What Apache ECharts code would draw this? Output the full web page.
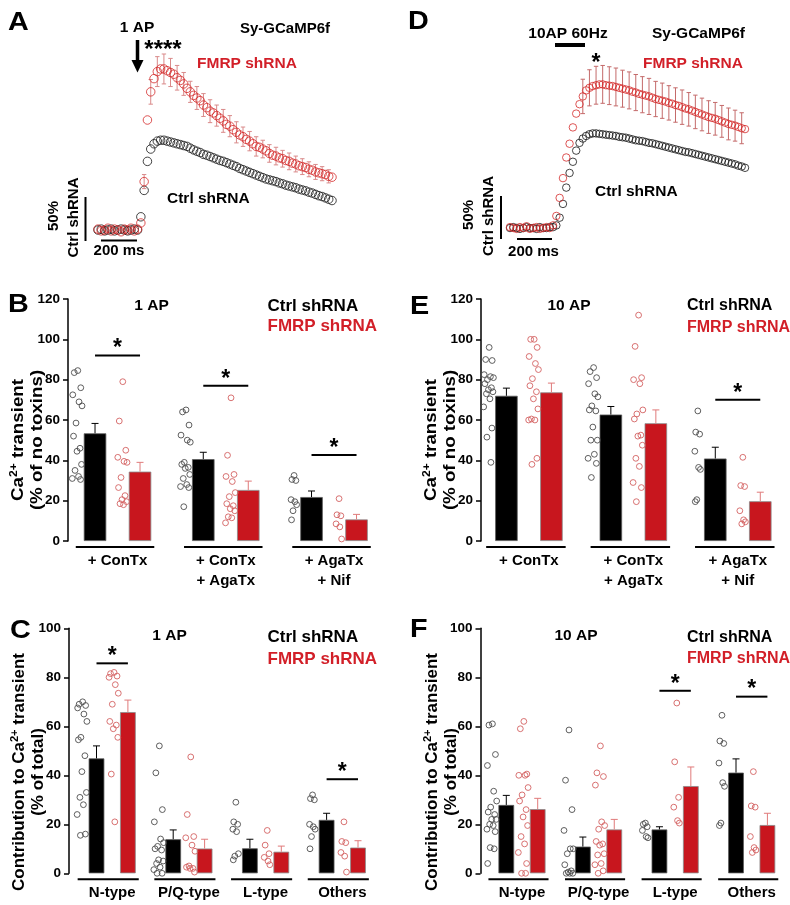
<!DOCTYPE html>
<html><head><meta charset="utf-8">
<script src="https://cdn.jsdelivr.net/npm/echarts@6/dist/echarts.min.js"></script>
<style>html,body{margin:0;padding:0;background:#fff}#chart{width:790px;height:905px}</style>
</head><body><div id="chart"></div>
<script>
// ================= DATA =================
// Panel A (1 AP) Sy-GCaMP6f traces, % of Ctrl shRNA peak, one value per frame
const traceA_ctrl = [0,1,-1,0,1,-1,0,1,0,-1,0,1,0,
  15,45,78,92,98,101,102,102,101,
  100,99,98,97,96,95,93,91,89.5,88,86,85,83.5,82,80.5,79,78,76.5,75,73.5,72,70,68.5,67,65.5,64,62.5,61,59.5,58,57,56,55,53.5,52.5,51,50,49,48,46.5,45.5,44.5,43,42,40.5,39,38,36.5,35,33.5];
const traceA_fmrp = [1,-1,0,2,-1,1,0,-2,1,0,2,-1,1,
  8,55,125,157,172,180,183,183,181,
  179,177,173,170,166,161,157,153,150,147,142,139,135,133,130,127,124,120,118,114,111,108,106,103,101,98,95,94,92,90,87,85,84,82,81,79,78,76,75,73,72,71,69,68,66,65,64,63,61,60];
const traceA_fmrpSem = [null,null,null,null,null,null,null,null,null,null,null,null,null,null,
  8,null,14,null,17,null,17,null,16,null,14,null,13,null,12,null,13,null,13,null,13,null,12,null,13,null,12,null,12,null,11,null,11,null,11,null,10,null,10,null,10,null,9.5,null,9.5,null,9,null,9,null,8.5,null,8.5,null,8,null,7.5,null];
// Panel D (10 AP, 60 Hz)
const traceD_ctrl = [0,1,0,-1,0,1,0,0,-1,1,0,0,1,
  1,3,12,28,47,64,77,90,99,104,107,109,110,110,109.5,109,
  108.5,108,107.5,107,106,105.5,105,104,103,102,101.5,101,100,99,98.5,97.5,96.5,95.5,94.5,93.5,92.5,91.5,90.5,89.5,88.5,88,87,86,85,84,83,82,81,80,79,78,77,76,75,74,72.5,71.5,70];
const traceD_fmrp = [1,0,-1,1,0,2,-1,0,1,-1,0,1,0,
  3,14,35,58,82,98,117,133,144,153,160,163,165,166,167,167,166,
  165.5,165,164,163,162,161,160,158.5,157.5,156,155,154,153,151.5,150,149,148,147,145.5,144.5,143,142,140.5,139,138,136.5,135,133.5,132,130.5,129,128,127,125.5,124,122.5,121,120,119,117.5,116,115];
const traceD_fmrpSem = [null,null,null,null,null,null,null,null,null,null,null,null,null,null,null,null,null,null,null,null,null,null,
  20,null,21,null,22,null,22,null,22,null,22,null,21.5,null,21.5,null,21,null,21,null,21,null,20.5,null,20.5,null,20,null,20,null,20,null,19.5,null,19.5,null,19,null,19,null,19,null,18.5,null,18.5,null,18,null,18,null];

// Panel B (1 AP, % of no toxins)
const catsToxin = ['+ ConTx', '+ ConTx\n+ AgaTx', '+ AgaTx\n+ Nif'];
const B_ctrlMean = [53.4, 40.6, 21.8];
const B_ctrlSem  = [4.9, 3.4, 3.0];
const B_fmrpMean = [34.4, 25.3, 10.7];
const B_fmrpSem  = [4.6, 4.4, 2.5];
const B_sig = [92, 77, 42.6];
const B_ctrlPts = [[84.5,83.5,76,72.5,69,67,58.5,52,46,44.5,38,35,32,31,30.5],
                   [65,64,57.5,52.5,50,49,39,38,36.5,36,33,31,28,27,26.5,17],
                   [32.5,30.5,30,20.5,19.5,18,15,10.5]];
const B_fmrpPts = [[79,59.5,45,41.5,39.5,39,31.5,26.5,22.5,20.5,19.5,18.5,18],
                   [71,42.5,33,32,29.5,24,22,18.5,17.5,16,15,12,11.5,9],
                   [21,13,12.5,8.5,7,1]];
// Panel E (10 AP, % of no toxins)
const E_ctrlMean = [72, 62.7, 40.9];
const E_ctrlSem  = [3.8, 4.0, 5.6];
const E_fmrpMean = [73.7, 58.4, 19.7];
const E_fmrpSem  = [4.6, 6.6, 4.5];
const E_sig = [null, null, 70];
const E_ctrlPts = [[96,90,89.5,82.5,81.5,81,80,78,76,75,74,73,70.5,66.5,56,51.5,39],
                   [86,84,81,78,73,71.5,67,65,64.5,56.5,50,50,43,41,38.5,31.5],
                   [64.5,54,53,44.5,36.5,35.5,20.5,19.5]];
const E_fmrpPts = [[100,100,96,91.5,88,85,80.5,77,74,70.5,65.5,60.5,60,60,41,38],
                   [112,96.5,81,80,78,65,63,60.5,52.5,52,47.5,41,37,29,26.5,19.5],
                   [41.5,27.5,27,15,10.5,9.5,8.5]];
// Panel C (1 AP, contribution % of total)
const catsType = ['N-type', 'P/Q-type', 'L-type', 'Others'];
const C_ctrlMean = [46.9, 13.9, 10.2, 21.8];
const C_ctrlSem  = [5.1, 3.8, 3.7, 2.7];
const C_fmrpMean = [65.8, 10.1, 8.8, 10.5];
const C_fmrpSem  = [4.9, 3.8, 2.3, 2.8];
const C_sig = [85.7, null, null, 38.4];
const C_ctrlPts = [[70,69,68.5,67.5,65,62,55.5,54.5,48,41.5,33,31,28,24,16,15.5],
                   [52,41,26,21,14,12.5,11,10,9.5,5.5,5,4,2.5,1.5,0,0],
                   [29,21,20,18,17,8,7,5.5],
                   [32,30.5,30,20,19,18,15,10]];
const C_fmrpPts = [[82,81.5,80.5,80,77,73.5,69,62,60.5,59,55.5,40.5,21],
                   [47.5,24,15,14.5,11.5,9,3,2.5,2,2,0.5],
                   [17.5,11.5,8,6.5,5,3.5],
                   [21,13,12.5,8.5,7,0.5]];
// Panel F (10 AP, contribution % of total)
const F_ctrlMean = [27.9, 10.9, 17.9, 41.1];
const F_ctrlSem  = [3.9, 3.9, 1.1, 5.6];
const F_fmrpMean = [26.2, 17.9, 35.6, 19.7];
const F_fmrpSem  = [4.4, 4.1, 7.8, 4.8];
const F_sig = [null, null, 74.5, 72.1];
const F_ctrlPts = [[61,60.5,48.5,44,33.5,29.5,27,25,24,22,22,20,19.5,18,17,10.5,10,4],
                   [58.5,38,26,17.5,10,10,8,3.5,1,0.5,0,0,0],
                   [20.5,20,19,17.5,15,14.5],
                   [64.5,54,53,45,37,35.5,20.5,19.5]];
const F_fmrpPts = [[62,59,40.5,40,40,35,32,29.5,26,23,19.5,15,12,8.5,4,0,0],
                   [52,41,39.5,36,21,19.5,18,13,12,11.5,8,7.5,4,3.5,1,0],
                   [69.5,45.5,31,27,21.5,20.5],
                   [41.5,27.5,27,15,10.5,9.5,8.5]];
const yTicksToxin = {max: 120, step: 20};
const yTicksType = {max: 100, step: 20};

// ================= STYLE / LAYOUT =================
const FONT = "'Liberation Sans', Arial, Helvetica, sans-serif";
const RED = '#c8161e';
const RED_TXT = '#d21f28';
const JIT = [0.1,-0.6,0.7,-0.9,0.35,0.95,-0.25,-0.75,0.55,-0.05,0.85,-0.45,0.25,-1,0.65,-0.35,0.45,-0.85];

const grids = [], xAxes = [], yAxes = [], series = [], graphics = [];

function addTracePanel(c) {
  const gi = grids.length;
  grids.push({left: c.left, top: c.top, width: c.width, height: c.height});
  xAxes.push({gridIndex: gi, type: 'value', min: 0, max: c.ctrl.length - 1, show: false});
  yAxes.push({gridIndex: gi, type: 'value', min: -30, max: 200, show: false});
  const base = {xAxisIndex: gi, yAxisIndex: gi, silent: true, animation: false};
  series.push({...base, type: 'scatter', data: c.ctrl.map((v, i) => [i, v]), symbol: 'circle',
    symbolSize: c.sym, clip: false, z: 2,
    itemStyle: {color: 'rgba(0,0,0,0)', borderColor: '#161616', borderWidth: 1}});
  const errData = [];
  c.sem.forEach((e, i) => { if (e != null) errData.push([i, c.fmrp[i], e]); });
  series.push({...base, type: 'custom', data: errData, encode: {x: 0, y: 1}, clip: false, z: 3,
    renderItem: (p, api) => {
      const i = api.value(0), v = api.value(1), e = api.value(2);
      const t = api.coord([i, v + e]), b = api.coord([i, v - e]);
      const x = t[0];
      const st = {stroke: c.errColor, lineWidth: 1};
      return {type: 'group', children: [
        {type: 'line', shape: {x1: x, y1: t[1], x2: x, y2: b[1]}, style: st},
        {type: 'line', shape: {x1: x - 2.2, y1: t[1], x2: x + 2.2, y2: t[1]}, style: st},
        {type: 'line', shape: {x1: x - 2.2, y1: b[1], x2: x + 2.2, y2: b[1]}, style: st}]};
    }});
  series.push({...base, type: 'scatter', data: c.fmrp.map((v, i) => [i, v]), symbol: 'circle',
    symbolSize: c.sym, clip: false, z: 4,
    itemStyle: {color: 'rgba(0,0,0,0)', borderColor: '#d42a2a', borderWidth: 1}});
}

function addBarPanel(c) {
  const gi = grids.length;
  grids.push({left: c.left, top: c.top, width: c.width, height: c.height});
  xAxes.push({gridIndex: gi, type: 'category', data: c.cats,
    axisLine: {show: false}, axisTick: {show: false},
    axisLabel: {interval: 0, color: '#000', fontFamily: FONT, fontWeight: 'bold', fontSize: 15, lineHeight: 20, margin: 10}});
  yAxes.push({gridIndex: gi, type: 'value', min: 0, max: c.ticks.max, interval: c.ticks.step, offset: c.axisOffset,
    axisLine: {show: true, lineStyle: {color: '#000', width: 1.5}},
    axisTick: {show: true, length: 5, lineStyle: {color: '#000', width: 1.5}},
    axisLabel: {color: '#000', fontFamily: FONT, fontWeight: 'bold', fontSize: 13.5, margin: 8},
    splitLine: {show: false}});
  const w = c.barW;
  const base = {xAxisIndex: gi, yAxisIndex: gi, silent: true, animation: false};
  series.push({...base, type: 'bar', data: c.ctrlMean, barWidth: w, barGap: '100%', z: 2,
    itemStyle: {color: '#000', borderColor: '#5a5a5a', borderWidth: 0.8}});
  series.push({...base, type: 'bar', data: c.fmrpMean, barWidth: w, barGap: '100%', z: 2,
    itemStyle: {color: RED, borderColor: '#8a8a8a', borderWidth: 0.8}});
  const errS = (means, sems, side, color) => ({...base, type: 'custom', z: 3, clip: false,
    data: means.map((m, g) => [g, m, sems[g]]), encode: {x: 0, y: 1},
    renderItem: (p, api) => {
      const g = api.value(0), m = api.value(1), s = api.value(2);
      const a = api.coord([g, m]), b = api.coord([g, m + s]);
      const x = a[0] + side * w;
      const st = {stroke: color, lineWidth: 1};
      return {type: 'group', children: [
        {type: 'line', shape: {x1: x, y1: a[1], x2: x, y2: b[1]}, style: st},
        {type: 'line', shape: {x1: x - 3.5, y1: b[1], x2: x + 3.5, y2: b[1]}, style: st}]};
    }});
  series.push(errS(c.ctrlMean, c.ctrlSem, -1, '#000'));
  series.push(errS(c.fmrpMean, c.fmrpSem, 1, '#e07a7a'));
  const ptS = (groups, side, color) => {
    const data = [];
    groups.forEach((pts, g) => pts.forEach((v, k) => data.push([g, v, k, pts.length])));
    return {...base, type: 'custom', z: 4, clip: false, data, encode: {x: 0, y: 1},
      renderItem: (p, api) => {
        const g = api.value(0), v = api.value(1), k = api.value(2), n = api.value(3);
        const a = api.coord([g, v]);
        const half = n >= 10 ? 5 : 3;
        const x = a[0] + side * w - w / 2 - 6.5 + JIT[k % JIT.length] * half;
        return {type: 'circle', shape: {cx: x, cy: a[1], r: 2.9}, style: {fill: 'none', stroke: color, lineWidth: 0.9}};
      }};
  };
  series.push(ptS(c.ctrlPts, -1, '#4d4d4d'));
  series.push(ptS(c.fmrpPts, 1, '#d46262'));
  // group underlines
  series.push({...base, type: 'custom', z: 3, clip: false, data: c.cats.map((_, g) => [g, 0]), encode: {x: 0, y: 1},
    renderItem: (p, api) => {
      const a = api.coord([api.value(0), 0]);
      return {type: 'line', shape: {x1: a[0] - 1.5 * w - c.extL, y1: a[1] + 6, x2: a[0] + 1.5 * w + 3, y2: a[1] + 6},
        style: {stroke: '#000', lineWidth: 2}};
    }});
  // significance
  const sigData = [];
  c.sig.forEach((s, g) => { if (s != null) sigData.push([g, s]); });
  series.push({...base, type: 'custom', z: 5, clip: false, data: sigData, encode: {x: 0, y: 1},
    renderItem: (p, api) => {
      const a = api.coord([api.value(0), api.value(1)]);
      return {type: 'group', children: [
        {type: 'line', shape: {x1: a[0] - w, y1: a[1], x2: a[0] + w, y2: a[1]}, style: {stroke: '#000', lineWidth: 2}},
        {type: 'text', x: a[0], y: a[1] - 6.5, style: {text: '*', font: 'bold 23px ' + FONT, fill: '#000', align: 'center', verticalAlign: 'middle'}}]};
    }});
}

function txt(text, x, y, size, o = {}) {
  graphics.push({type: 'text', x, y, rotation: o.rot || 0, scaleX: o.sx || 1, scaleY: o.sy || 1, z: 100, silent: true,
    style: {text, fill: o.color || '#000', font: 'bold ' + size + 'px ' + FONT, align: o.align || 'center', verticalAlign: 'middle', rich: o.rich}});
}
function seg(x1, y1, x2, y2, wdt) {
  graphics.push({type: 'line', z: 100, silent: true, shape: {x1, y1, x2, y2}, style: {stroke: '#000', lineWidth: wdt}});
}
const ROT = Math.PI / 2;
const supRich = (s) => ({sup: {font: 'bold ' + s + 'px ' + FONT, padding: [0, 0, Math.round(s * 0.9), 0]}});

// ---- panels ----
addTracePanel({left: 98, top: 54, width: 234, height: 202.4, ctrl: traceA_ctrl, fmrp: traceA_fmrp, sem: traceA_fmrpSem, sym: 8.5, errColor: '#d98a8a'});
addTracePanel({left: 510, top: 56, width: 235, height: 197.8, ctrl: traceD_ctrl, fmrp: traceD_fmrp, sem: traceD_fmrpSem, sym: 7.5, errColor: '#c46a6a'});
addBarPanel({left: 63.4, top: 299, width: 324.75, height: 242, axisOffset: -4.6, barW: 22.5, extL: 8, cats: catsToxin, ticks: yTicksToxin,
  ctrlMean: B_ctrlMean, ctrlSem: B_ctrlSem, fmrpMean: B_fmrpMean, fmrpSem: B_fmrpSem, ctrlPts: B_ctrlPts, fmrpPts: B_fmrpPts, sig: B_sig});
addBarPanel({left: 476.7, top: 299, width: 324.3, height: 242, axisOffset: -4.3, barW: 22.5, extL: 9, cats: catsToxin, ticks: yTicksToxin,
  ctrlMean: E_ctrlMean, ctrlSem: E_ctrlSem, fmrpMean: E_fmrpMean, fmrpSem: E_fmrpSem, ctrlPts: E_ctrlPts, fmrpPts: E_fmrpPts, sig: E_sig});
addBarPanel({left: 73.85, top: 628.3, width: 306.8, height: 245, axisOffset: 4.85, barW: 15.7, extL: 11, cats: catsType, ticks: yTicksType,
  ctrlMean: C_ctrlMean, ctrlSem: C_ctrlSem, fmrpMean: C_fmrpMean, fmrpSem: C_fmrpSem, ctrlPts: C_ctrlPts, fmrpPts: C_fmrpPts, sig: C_sig});
addBarPanel({left: 483.7, top: 628.3, width: 308.5, height: 245, axisOffset: 3.2, barW: 15.7, extL: 10, cats: catsType, ticks: yTicksType,
  ctrlMean: F_ctrlMean, ctrlSem: F_ctrlSem, fmrpMean: F_fmrpMean, fmrpSem: F_fmrpSem, ctrlPts: F_ctrlPts, fmrpPts: F_fmrpPts, sig: F_sig});

// ---- annotations: A ----
txt('A', 8, 23.5, 25, {align: 'left', sx: 1.15});
txt('1 AP', 137, 27.5, 15.5);
txt('Sy-GCaMP6f', 285, 29, 15);
txt('****', 163, 50.5, 24);
txt('FMRP shRNA', 197, 64, 15.5, {align: 'left', color: RED_TXT});
txt('Ctrl shRNA', 167, 199, 15.5, {align: 'left'});
txt('50%', 53.5, 216, 15, {rot: ROT});
txt('Ctrl shRNA', 73.5, 217.5, 15, {rot: ROT});
txt('200 ms', 119, 251, 15);
seg(85.5, 197, 85.5, 241, 2);
seg(101, 240.5, 137, 240.5, 2);
seg(137.5, 40, 137.5, 62, 3.5);
graphics.push({type: 'polygon', z: 100, silent: true, shape: {points: [[131.5, 60], [143.5, 60], [137.5, 72.5]]}, style: {fill: '#000'}});
// ---- D ----
txt('D', 408, 22.5, 25, {align: 'left', sx: 1.15});
txt('10AP 60Hz', 568, 34, 15.5);
seg(555, 45, 585, 45, 4);
txt('Sy-GCaMP6f', 698.5, 34, 15.5);
txt('*', 596, 64, 23);
txt('FMRP shRNA', 643, 64, 15.5, {align: 'left', color: RED_TXT});
txt('Ctrl shRNA', 595, 191.5, 15.5, {align: 'left'});
txt('50%', 468.5, 215, 15, {rot: ROT});
txt('Ctrl shRNA', 488.5, 216, 15, {rot: ROT});
txt('200 ms', 533.5, 252, 15);
seg(501, 196, 501, 239, 2);
seg(517, 239, 552, 239, 2);
// ---- B ----
txt('B', 8, 305, 25, {align: 'left', sx: 1.15});
txt('1 AP', 151.5, 306, 15.5);
txt('Ctrl shRNA', 267.5, 306, 17, {align: 'left'});
txt('FMRP shRNA', 267.5, 326, 17, {align: 'left', color: RED_TXT});
txt('Ca{sup|2+} transient', 18.5, 440, 17, {rot: ROT, sx: 1.1, rich: supRich(11)});
txt('(% of no toxins)', 37, 440, 17, {rot: ROT, sx: 1.1});
// ---- E ----
txt('E', 410, 307.5, 25, {align: 'left', sx: 1.15});
txt('10 AP', 569, 306, 15.5);
txt('Ctrl shRNA', 687, 306, 16, {align: 'left'});
txt('FMRP shRNA', 687, 327.5, 16, {align: 'left', color: RED_TXT});
txt('Ca{sup|2+} transient', 431.5, 440, 17, {rot: ROT, sx: 1.1, rich: supRich(11)});
txt('(% of no toxins)', 450, 440, 17, {rot: ROT, sx: 1.1});
// ---- C ----
txt('C', 10, 631.5, 25, {align: 'left', sx: 1.15});
txt('1 AP', 169.5, 636, 15.5);
txt('Ctrl shRNA', 267.5, 637.5, 17, {align: 'left'});
txt('FMRP shRNA', 267.5, 659, 17, {align: 'left', color: RED_TXT});
txt('Contribution to Ca{sup|2+} transient', 20, 772, 16, {rot: ROT, sx: 1.06, rich: supRich(10.5)});
txt('(% of total)', 39, 772, 16, {rot: ROT, sx: 1.06});
// ---- F ----
txt('F', 410, 630, 25, {align: 'left', sx: 1.15});
txt('10 AP', 576, 636, 15.5);
txt('Ctrl shRNA', 687, 637.5, 16, {align: 'left'});
txt('FMRP shRNA', 687, 659, 16, {align: 'left', color: RED_TXT});
txt('Contribution to Ca{sup|2+} transient', 433, 772, 16, {rot: ROT, sx: 1.06, rich: supRich(10.5)});
txt('(% of total)', 452, 772, 16, {rot: ROT, sx: 1.06});

const chart = echarts.init(document.getElementById('chart'), null, {renderer: 'canvas'});
chart.setOption({
  animation: false,
  backgroundColor: '#fff',
  grid: grids, xAxis: xAxes, yAxis: yAxes, series,
  graphic: {elements: graphics}
});
</script>
</body></html>
